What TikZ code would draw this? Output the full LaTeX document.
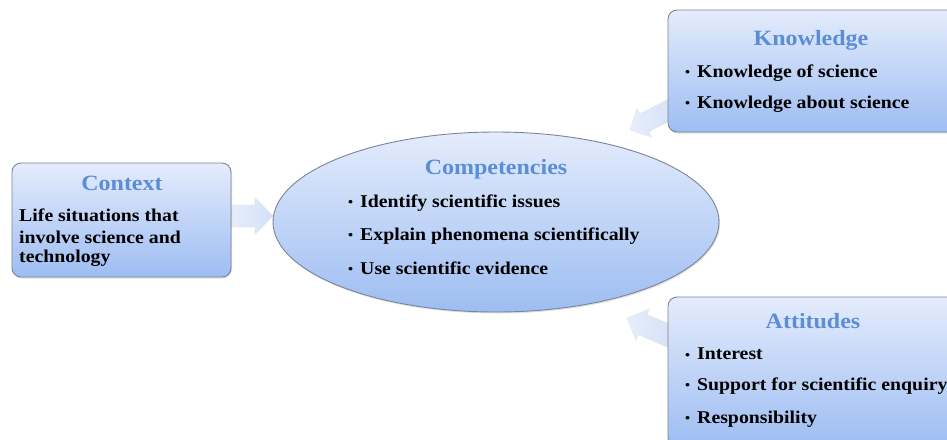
\documentclass[tikz,border=0pt]{standalone}
\usepackage{fontspec}
\setmainfont[FakeStretch=1.1]{Liberation Serif}
\usetikzlibrary{shadows}
\definecolor{ttl}{HTML}{5B8ED6}
\definecolor{gtop}{HTML}{E4ECFC}
\definecolor{gbot}{HTML}{9DBDF2}
\definecolor{bord}{HTML}{7A8696}
\definecolor{arA}{HTML}{E6EEFB}
\definecolor{arB}{HTML}{D3E0F6}
\tikzset{
  box/.style={draw=bord, line width=0.9pt, rounded corners=9pt, top color=gtop, bottom color=gbot, drop shadow={opacity=0.25, shadow xshift=1pt, shadow yshift=-1.5pt}},
  ttlf/.style={font=\bfseries\fontsize{21.8}{26}\selectfont, text=ttl},
  bodyf/.style={font=\bfseries\fontsize{18}{22}\selectfont, anchor=west, inner sep=0pt},
  barrow/.style={draw=gray!22, line width=0.4pt, left color=arA, right color=arB}
}
\newcommand{\bul}{\makebox[12pt][l]{\raisebox{0.5pt}{\fontsize{13}{13}\selectfont•}}}
% #1 tip, #2 angle, #3 length, #4 head length, #5 head width, #6 shaft width
\newcommand{\blockarr}[6]{%
  \begin{scope}[shift={#1}, rotate=#2]
    \path[barrow] (0,0) -- (-#4,#5/2) -- (-#4,#6/2) -- (-#3,#6/2) -- (-#3,-#6/2) -- (-#4,-#6/2) -- (-#4,-#5/2) -- cycle;
  \end{scope}}
\begin{document}
\begin{tikzpicture}[x=1pt,y=-1pt]
\useasboundingbox (0,0) rectangle (947,439);
% arrows
\blockarr{(273,216)}{0}{42}{18}{37}{22}
\blockarr{(630,130)}{207}{50}{16}{32}{20}
\blockarr{(627,318)}{157}{50}{17}{34}{22}
% context
\node[box, minimum width=219pt, minimum height=114pt] (ctx) at (121.5,220) {};
\node[ttlf] (ctxt) at (122,183) {Context};
\node[bodyf] (c1) at (19,215) {Life situations that};
\node[bodyf] (c2) at (19,237) {involve science and};
\node[bodyf] (c3) at (19,258) {technology};
% competencies
\draw[draw=bord, line width=0.9pt, top color=gtop, bottom color=gbot, drop shadow={opacity=0.25, shadow xshift=1pt, shadow yshift=-1.5pt}] (496,222) ellipse [x radius=223, y radius=90];
\coordinate (comp) at (496,222);
\node[ttlf] (compt) at (496,169) {Competencies};
\node[bodyf] (p1) at (348,203) {\bul Identify scientific issues};
\node[bodyf] (p2) at (348,236) {\bul Explain phenomena scientifically};
\node[bodyf] (p3) at (348,268) {\bul Use scientific evidence};
% knowledge
\node[box, minimum width=300pt, minimum height=122pt] (kn) at (818,71) {};
\node[ttlf] (knt) at (811,40) {Knowledge};
\node[bodyf] (k1) at (685,73) {\bul Knowledge of science};
\node[bodyf] (k2) at (685,104) {\bul Knowledge about science};
% attitudes
\node[box, minimum width=300pt, minimum height=150pt] (at) at (818,372) {};
\node[ttlf] (att) at (813,321) {Attitudes};
\node[bodyf] (t1) at (685,354) {\bul Interest};
\node[bodyf] (t2) at (685,386) {\bul Support for scientific enquiry};
\node[bodyf] (t3) at (685,419) {\bul Responsibility};
\end{tikzpicture}
\end{document}
